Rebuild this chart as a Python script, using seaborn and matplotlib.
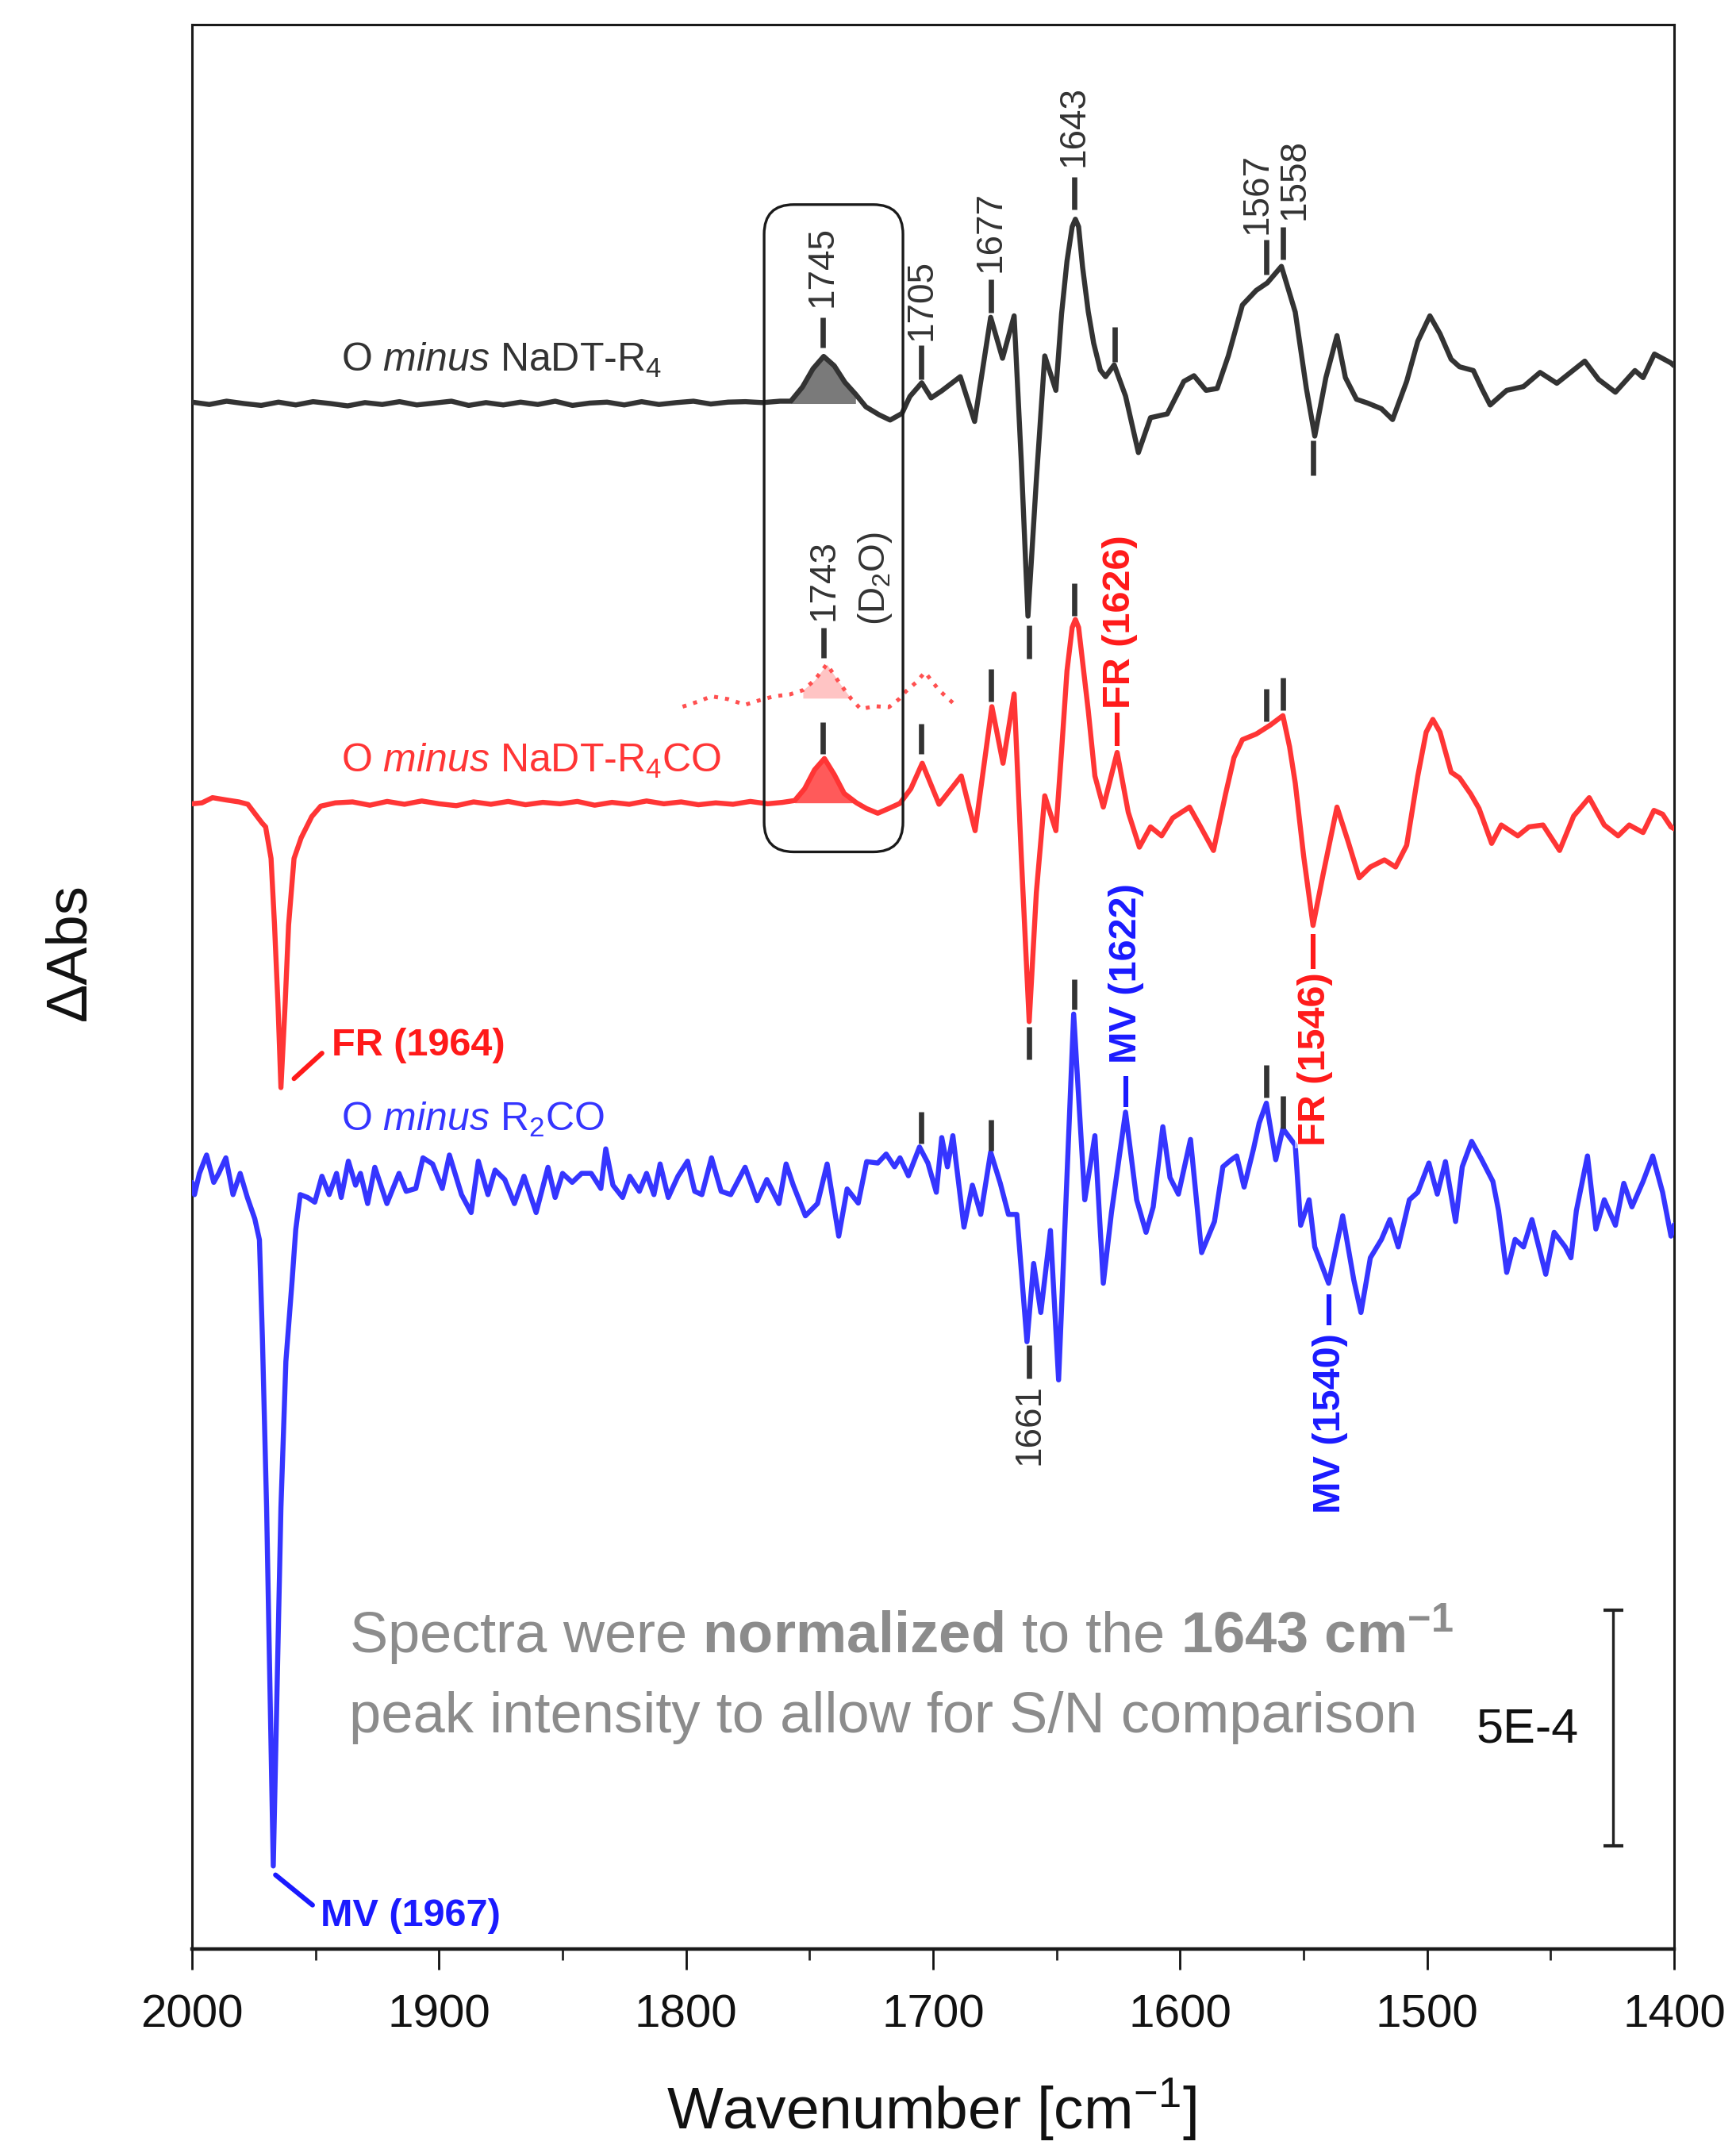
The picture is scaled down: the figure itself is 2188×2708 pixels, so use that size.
import numpy as np
import matplotlib
matplotlib.use("Agg")
import matplotlib.pyplot as plt
import seaborn as sns
from matplotlib.patches import FancyBboxPatch
from matplotlib.ticker import MultipleLocator

# Difference spectra: wavenumber [cm-1] and dAbs in units of 1E-4, each relative to its own baseline
black_wn = [2000, 1993, 1986, 1979, 1972, 1965, 1958, 1951, 1944, 1937, 1930, 1923, 1916, 1909, 1902,
            1895, 1888, 1881, 1874, 1867, 1860, 1853, 1846, 1839, 1832, 1825, 1818, 1811, 1804, 1797,
            1790, 1783, 1776, 1769, 1762, 1757.6, 1752.9, 1748.6, 1744.3, 1740.0, 1735.7, 1731.4,
            1727.2, 1721.8, 1717.4, 1712.6, 1709.4, 1704.6, 1700.8, 1696.5, 1689.0, 1683.2, 1676.7,
            1671.9, 1667.2, 1664.3, 1661.6, 1658.2, 1654.8, 1650.3, 1648.0, 1645.8, 1643.7, 1642.4,
            1641.1, 1639.5, 1637.2, 1635.0, 1632.3, 1630.2, 1626.7, 1622.1, 1616.9, 1612.0, 1605.2,
            1598.5, 1594.4, 1589.5, 1585.0, 1580.5, 1574.8, 1569.2, 1564.7, 1559.0, 1553.4, 1548.9,
            1545.5, 1541.0, 1536.5, 1533.1, 1528.6, 1524.1, 1518.5, 1514.0, 1508.3, 1503.8, 1498.9,
            1494.8, 1490.3, 1486.9, 1481.3, 1477.9, 1474.5, 1467.8, 1461.0, 1454.3, 1447.5, 1436.2,
            1430.6, 1423.8, 1415.9, 1412.6, 1408.0, 1401.3, 1400.0]
black_dabs = [0.03, -0.02, 0.05, 0.00, -0.04, 0.03, -0.03, 0.04, 0.00, -0.05, 0.02, -0.02, 0.04, -0.03, 0.01,
              0.05, -0.04, 0.02, -0.03, 0.03, -0.02, 0.05, -0.04, 0.01, 0.03, -0.03, 0.04, -0.02, 0.02, 0.05,
              -0.01, 0.03, 0.04, 0.02, 0.05, 0.05, 0.35, 0.74, 1.00, 0.80, 0.45, 0.20,
              -0.07, -0.24, -0.35, -0.21, 0.15, 0.44, 0.12, 0.27, 0.57, -0.38, 1.83,
              0.96, 1.86, -1.23, -4.51, -1.62, 1.01, 0.28, 1.90, 3.02, 3.75, 3.91,
              3.75, 2.90, 1.95, 1.28, 0.71, 0.57, 0.82, 0.16, -1.04, -0.30, -0.22,
              0.47, 0.59, 0.28, 0.32, 1.01, 2.09, 2.40, 2.56, 2.91, 1.94, 0.32,
              -0.69, 0.55, 1.44, 0.55, 0.09, 0.01, -0.11, -0.34, 0.47, 1.32, 1.86,
              1.48, 0.94, 0.78, 0.70, 0.32, -0.03, 0.28, 0.36, 0.66, 0.43, 0.90,
              0.51, 0.24, 0.70, 0.55, 1.05, 0.86, 0.80]

red_wn = [2000, 1996, 1991.7, 1986, 1981, 1977.4, 1974.5, 1971.6, 1970.2, 1968.0, 1966.6, 1965.2, 1964.0,
          1962.3, 1960.9, 1958.7, 1955.8, 1951.5, 1947.9, 1942, 1935, 1928, 1921, 1914, 1907, 1900, 1893,
          1886, 1879, 1872, 1865, 1858, 1851, 1844, 1837, 1830, 1823, 1816, 1809, 1802, 1795, 1788, 1781,
          1774, 1767, 1761, 1756, 1752, 1748, 1744, 1740, 1736, 1731, 1727, 1722.4, 1718, 1713.4, 1709,
          1704.4, 1697.6, 1688.6, 1683.0, 1676.2, 1671.7, 1667.2, 1664.3, 1661.1, 1658.2, 1654.8, 1650.3,
          1648.0, 1645.8, 1643.7, 1642.4, 1641.1, 1639.5, 1637.2, 1634.5, 1631.1, 1625.5, 1621.0, 1616.5,
          1612.0, 1607.5, 1603.0, 1596.2, 1591.7, 1586.5, 1581.6, 1578.2, 1574.8, 1569.2, 1563.5, 1558.4,
          1555.7, 1553.4, 1550.0, 1546.2, 1542.1, 1536.5, 1532.0, 1527.5, 1523.0, 1517.3, 1512.8, 1508.3,
          1503.8, 1500.4, 1497.7, 1494.8, 1490.3, 1486.9, 1482.4, 1479.0, 1473.9, 1470.0, 1463.3, 1458.8,
          1453.1, 1446.4, 1440.7, 1434.4, 1428.3, 1422.7, 1418.2, 1412.6, 1408.2, 1404.7, 1401.3, 1400.0]
red_dabs = [-0.02, 0.00, 0.11, 0.06, 0.02, -0.03, -0.23, -0.43, -0.51, -1.18, -2.59, -4.27, -6.04,
            -4.27, -2.59, -1.18, -0.74, -0.29, -0.07, 0.00, 0.02, -0.05, 0.03, -0.03, 0.04, -0.02, -0.06,
            0.02, -0.03, 0.03, -0.04, 0.01, -0.02, 0.03, -0.05, 0.01, -0.03, 0.04, -0.02, 0.02, -0.04, 0.00, -0.03,
            0.03, -0.02, 0.01, 0.05, 0.30, 0.70, 0.94, 0.60, 0.20, 0.00, -0.12, -0.22, -0.12, -0.01, 0.30,
            0.84, -0.03, 0.57, -0.59, 2.04, 0.84, 2.31, -1.13, -4.64, -1.90, 0.15, -0.59,
            1.10, 2.80, 3.72, 3.89, 3.72, 3.00, 1.96, 0.57, -0.09, 1.07, -0.20, -0.94,
            -0.51, -0.70, -0.32, -0.09, -0.51, -1.01, 0.19, 0.96, 1.34, 1.46, 1.65, 1.85,
            1.19, 0.42, -1.13, -2.60, -1.51, -0.09, -0.82, -1.59, -1.36, -1.21, -1.36, -0.90,
            0.57, 1.50, 1.77, 1.50, 0.65, 0.53, 0.19, -0.12, -0.86, -0.47, -0.70, -0.51,
            -0.47, -1.01, -0.28, 0.11, -0.47, -0.70, -0.47, -0.63, -0.16, -0.24, -0.51, -0.55]

blue_wn = [2000, 1999.0, 1997.0, 1994.1, 1991.2, 1989.2, 1986.3, 1983.4, 1980.5, 1977.6, 1974.6, 1972.7,
           1971.5, 1969.8, 1967.1, 1964.0, 1962.0, 1959.5, 1958.0, 1956.2, 1953.2, 1950.3, 1947.4, 1944.5,
           1941.5, 1939.6, 1936.7, 1933.8, 1931.8, 1928.9, 1926.0, 1921.1, 1916.2, 1913.3, 1909.4, 1906.5,
           1902.6, 1898.7, 1895.8, 1890.9, 1887.0, 1884.1, 1880.2, 1877.3, 1873.4, 1869.5, 1865.6, 1860.7,
           1855.9, 1853.0, 1850.0, 1846.1, 1842.3, 1838.4, 1834.5, 1832.5, 1829.6, 1825.7, 1822.8, 1818.9,
           1816.0, 1813.0, 1810.5, 1807.2, 1803.3, 1799.4, 1796.5, 1793.6, 1789.7, 1785.8, 1781.9, 1776.1,
           1771.2, 1767.3, 1762.4, 1759.5, 1756.6, 1751.7, 1746.8, 1742.9, 1738.2, 1734.8, 1730.3, 1726.9,
           1722.4, 1719.0, 1715.6, 1713.4, 1710.0, 1705.5, 1702.1, 1698.7, 1696.5, 1694.2, 1692.0, 1687.5,
           1684.1, 1680.7, 1676.7, 1672.8, 1669.5, 1666.1, 1662.0, 1659.3, 1656.4, 1652.5, 1649.2, 1643.1,
           1638.6, 1634.5, 1631.1, 1627.8, 1622.1, 1617.6, 1613.8, 1610.9, 1607.0, 1604.1, 1600.7, 1595.8,
           1591.3, 1586.1, 1582.7, 1579.3, 1577.1, 1574.1, 1570.3, 1568.0, 1565.1, 1561.3, 1558.4, 1553.4,
           1551.2, 1547.8, 1545.5, 1539.9, 1534.2, 1529.7, 1526.8, 1523.0, 1518.5, 1515.1, 1511.7, 1507.2,
           1503.8, 1499.3, 1495.9, 1492.6, 1488.5, 1485.8, 1482.0, 1477.9, 1473.4, 1471.1, 1467.8, 1464.4,
           1461.0, 1457.6, 1452.0, 1448.6, 1444.1, 1441.8, 1439.6, 1435.1, 1431.7, 1428.3, 1423.8, 1420.4,
           1417.1, 1412.6, 1408.7, 1404.7, 1401.3, 1400.0]
blue_dabs = [-0.20, -0.46, -0.01, 0.38, -0.20, -0.01, 0.32, -0.46, -0.01, -0.52, -0.97, -1.42,
             -3.50, -7.10, -14.70, -7.10, -4.00, -2.30, -1.20, -0.46, -0.52, -0.62, -0.07, -0.46,
             -0.01, -0.52, 0.25, -0.26, -0.01, -0.65, 0.12, -0.65, -0.01, -0.39, -0.33, 0.32,
             0.19, -0.33, 0.38, -0.46, -0.84, 0.25, -0.46, 0.06, -0.14, -0.65, -0.07, -0.84,
             0.12, -0.52, -0.01, -0.20, -0.01, -0.01, -0.33, 0.51, -0.26, -0.52, -0.07, -0.39,
             -0.01, -0.46, 0.19, -0.52, -0.07, 0.25, -0.39, -0.46, 0.32, -0.39, -0.46, 0.12,
             -0.59, -0.14, -0.65, 0.19, -0.26, -0.91, -0.65, 0.19, -1.34, -0.34, -0.64, 0.24,
             0.21, 0.40, 0.13, 0.32, -0.06, 0.55, 0.21, -0.41, 0.75, 0.13, 0.79, -1.15,
             -0.26, -0.88, 0.44, -0.22, -0.88, -0.88, -3.58, -1.92, -2.96, -1.22, -4.39, 3.37,
             -0.57, 0.79, -2.34, -0.84, 1.29, -0.57, -1.26, -0.72, 0.98, -0.10, -0.45, 0.71,
             -1.69, -1.03, 0.13, 0.28, 0.36, -0.30, 0.51, 1.06, 1.48, 0.28, 0.94, 0.59,
             -1.11, -0.57, -1.57, -2.34, -0.91, -2.27, -2.96, -1.80, -1.41, -0.99, -1.57, -0.57,
             -0.41, 0.21, -0.45, 0.24, -1.03, 0.13, 0.67, 0.28, -0.18, -0.80, -2.11, -1.41,
             -1.57, -0.99, -2.15, -1.26, -1.57, -1.80, -0.80, 0.36, -1.19, -0.57, -1.11, -0.22,
             -0.72, -0.18, 0.36, -0.41, -1.34, -1.10]

# D2O reference trace (dotted), relative to the red baseline
d2o_wn = [1801.4, 1795, 1789.7, 1783, 1776.1, 1770, 1764.4, 1758, 1752.7, 1748, 1743.0, 1738, 1733.2,
          1729.3, 1723.5, 1717.9, 1713.8, 1711.1, 1707, 1703.3, 1697.6, 1692.0]
d2o_dabs = [2.04, 2.15, 2.26, 2.20, 2.08, 2.18, 2.26, 2.30, 2.39, 2.60, 2.94, 2.55, 2.21,
            1.99, 2.05, 2.03, 2.20, 2.36, 2.55, 2.77, 2.39, 2.12]

spectrum_names = ["black", "red", "blue"]
spectrum_offsets = [32.78, 24.31, 16.46]
spectrum_colors = ["#333333", "#ff3535", "#3535ff"]

# short position markers (wavenumber, lower end, upper end)
tick_wn = [1744.7, 1704.8, 1676.7, 1642.9, 1626.5, 1565.1, 1558.4, 1546.2, 1661.1,
           1744.7, 1704.8, 1744.2, 1676.7, 1642.9, 1661.1, 1565.1, 1558.4,
           1704.8, 1676.7, 1642.9, 1661.1, 1565.1, 1558.4]
tick_lo = [33.97, 33.30, 34.71, 36.89, 33.67, 35.52, 35.84, 31.25, 27.36,
           25.34, 25.34, 27.39, 26.46, 28.28, 18.86, 26.04, 26.28,
           17.09, 16.94, 19.92, 12.10, 18.06, 17.41]
tick_hi = [34.61, 34.01, 35.42, 37.58, 34.41, 36.26, 36.53, 32.00, 28.08,
           26.03, 25.98, 28.03, 27.15, 28.97, 19.55, 26.73, 26.97,
           17.76, 17.59, 20.56, 12.81, 18.75, 18.10]

num_labels = ["1745", "1705", "1677", "1643", "1567", "1558", "1743", "(D$_2$O)", "1661"]
num_wn = [1744.7, 1704.8, 1676.7, 1642.9, 1568.7, 1553.8, 1744.2, 1723.5, 1661.1]
num_y = [34.83, 34.11, 35.57, 37.81, 36.38, 36.68, 28.17, 28.08, 11.99]
num_va = ["bottom"] * 8 + ["top"]

band_labels = ["FR (1626)", "FR (1546)", "MV (1622)", "MV (1540)"]
band_wn = [1625.5, 1546.2, 1622.1, 1539.9]
band_line_lo = [25.51, 20.79, 17.86, 13.23]
band_line_hi = [26.23, 21.52, 18.52, 13.89]
band_text_wn = [1624.4, 1545.5, 1621.7, 1539.4]
band_text_y = [26.31, 20.71, 18.79, 13.06]
band_va = ["bottom", "top", "bottom", "top"]
band_colors = ["#ff1a1a", "#ff1a1a", "#1a1aff", "#1a1aff"]


def main():
    sns.set_style("ticks")
    plt.rcParams["font.family"] = ["Liberation Sans", "DejaVu Sans"]
    plt.rcParams["mathtext.fontset"] = "custom"
    plt.rcParams["mathtext.rm"] = "Liberation Sans"
    plt.rcParams["mathtext.it"] = "Liberation Sans:italic"
    plt.rcParams["mathtext.bf"] = "Liberation Sans:bold"

    fig = plt.figure(figsize=(21.88, 27.08), dpi=100)
    ax = fig.add_axes([0.1106, 0.0931, 0.8538, 0.8955])

    spectra = {"black": (black_wn, black_dabs), "red": (red_wn, red_dabs), "blue": (blue_wn, blue_dabs)}
    for name, off, col in zip(spectrum_names, spectrum_offsets, spectrum_colors):
        wn, dabs = spectra[name]
        sns.lineplot(x=wn, y=np.asarray(dabs) + off, ax=ax, color=col,
                     sort=False, estimator=None, zorder=3)
        ax.lines[-1].set_linewidth(4.6)
        ax.lines[-1].set_solid_joinstyle("round")

    # dotted D2O trace
    d2o_y = np.asarray(d2o_dabs) + spectrum_offsets[1]
    sns.lineplot(x=d2o_wn, y=d2o_y, ax=ax, color="#ff5050",
                 sort=False, estimator=None, zorder=3)
    ax.lines[-1].set_linewidth(3.6)
    ax.lines[-1].set_linestyle((0, (1, 1.8)))

    # filled 1745 / 1743 bands
    bw, bv = np.asarray(black_wn), np.asarray(black_dabs)
    m = (bw <= 1757.6) & (bw >= 1731.4)
    ax.fill_between(bw[m], bv[m] + spectrum_offsets[0], spectrum_offsets[0], color="#7a7a7a", lw=0, zorder=2)
    rw, rv = np.asarray(red_wn), np.asarray(red_dabs)
    m = (rw <= 1756) & (rw >= 1731)
    ax.fill_between(rw[m], rv[m] + spectrum_offsets[1], spectrum_offsets[1], color="#ff5a5a", lw=0, zorder=2)
    dw = np.asarray(d2o_wn)
    m = (dw <= 1752.7) & (dw >= 1733.2)
    ax.fill_between(dw[m], d2o_y[m], spectrum_offsets[1] + 2.22, color="#ffc4c4", lw=0, zorder=2)

    # rounded box around the 1745 region
    box = FancyBboxPatch((1712.2, 23.27), 56.2, 13.73, boxstyle="round,pad=0,rounding_size=12",
                         mutation_aspect=0.0524, fill=False, ec="#1a1a1a", lw=2.4, zorder=4)
    ax.add_patch(box)

    ax.vlines(tick_wn, tick_lo, tick_hi, color="#333333", lw=4.8, zorder=4)
    for txt, x, y, va in zip(num_labels, num_wn, num_y, num_va):
        ax.text(x, y, txt, rotation=90, ha="center", va=va, fontsize=33, color="#333333", zorder=5)

    for i, txt in enumerate(band_labels):
        ax.vlines(band_wn[i], band_line_lo[i], band_line_hi[i], color=band_colors[i], lw=4.4, zorder=4)
        bbox = None
        if txt == "FR (1546)":
            bbox = dict(boxstyle="square,pad=0.05", fc="white", ec="none", alpha=0.6)
        ax.text(band_text_wn[i], band_text_y[i], txt, rotation=90, ha="center", va=band_va[i],
                fontsize=35, fontweight="bold", color=band_colors[i], bbox=bbox, zorder=5)

    # horizontal band labels with leader lines
    ax.plot([1958.7, 1947.4], [18.46, 19.0], color="#ff1a1a", lw=4.4, zorder=4)
    ax.text(1943.5, 19.16, "FR (1964)", ha="left", va="center", fontsize=35,
            fontweight="bold", color="#ff1a1a", zorder=5)
    ax.plot([1966.2, 1951.2], [1.57, 0.93], color="#1a1aff", lw=4.4, zorder=4)
    ax.text(1948.0, 0.69, "MV (1967)", ha="left", va="center", fontsize=35,
            fontweight="bold", color="#1a1aff", zorder=5)

    # spectrum names
    ax.text(1939.6, 33.69, r"O $\mathit{minus}$ NaDT-R$_4$", ha="left", va="center",
            fontsize=36, color="#333333")
    ax.text(1939.6, 25.2, r"O $\mathit{minus}$ NaDT-R$_4$CO", ha="left", va="center",
            fontsize=36, color="#ff3535")
    ax.text(1939.6, 17.59, r"O $\mathit{minus}$ R$_2$CO", ha="left", va="center",
            fontsize=36, color="#3535ff")

    # note and scale bar
    ax.text(1936.4, 6.67, r"Spectra were $\mathbf{normalized}$ to the $\mathbf{1643\ cm^{-1}}$",
            ha="left", va="center", fontsize=52, color="#8c8c8c")
    ax.text(1936.4, 4.90, "peak intensity to allow for S/N comparison",
            ha="left", va="center", fontsize=52, color="#8c8c8c")
    ax.vlines(1424.7, 2.19, 7.19, color="#222222", lw=2.4)
    ax.hlines([2.19, 7.19], 1420.7, 1428.7, color="#222222", lw=3.0)
    ax.text(1438.6, 4.65, "5E-4", ha="right", va="center", fontsize=44, color="#111111")

    ax.set_xlim(2000, 1400)
    ax.set_ylim(0, 40.82)
    ax.set_yticks([])
    ax.xaxis.set_major_locator(MultipleLocator(100))
    ax.xaxis.set_minor_locator(MultipleLocator(50))
    ax.tick_params(axis="x", which="major", direction="out", length=19, width=2.0,
                   labelsize=42, pad=22, colors="#111111")
    ax.tick_params(axis="x", which="minor", direction="out", length=10, width=2.0)
    for s in ax.spines.values():
        s.set_linewidth(2.2)
        s.set_color("#1a1a1a")
        s.set_visible(True)
    ax.spines["bottom"].set_linewidth(3.2)

    ax.set_xlabel(r"Wavenumber [cm$^{-1}$]", fontsize=54, color="#111111")
    ax.xaxis.set_label_coords(0.499, -0.066)
    ax.set_ylabel("ΔAbs", fontsize=52, color="#111111")
    ax.yaxis.set_label_coords(-0.064, 0.518)

    fig.savefig("out.png", dpi=100)
    plt.close(fig)


if __name__ == "__main__":
    main()
